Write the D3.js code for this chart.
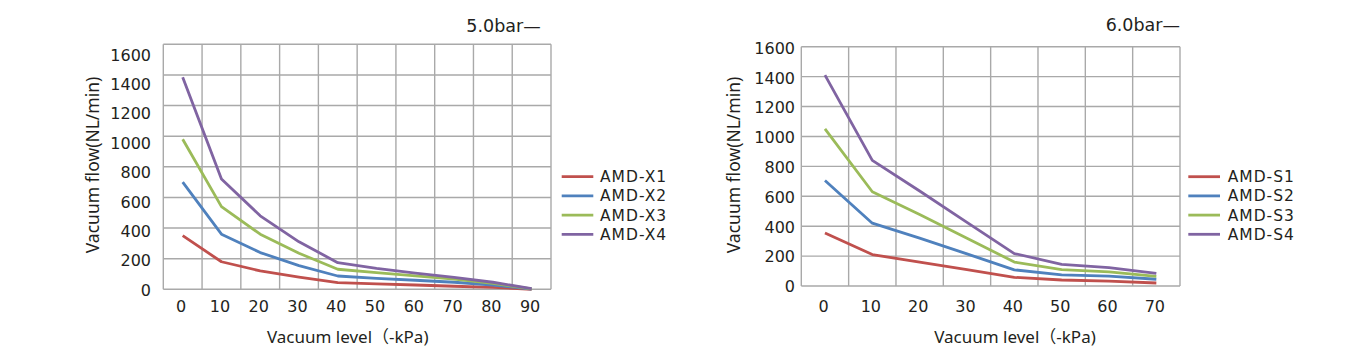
<!DOCTYPE html>
<html>
<head>
<meta charset="utf-8">
<script src="https://cdn.jsdelivr.net/npm/d3@7"></script>
<style>
  html, body { margin: 0; padding: 0; background: #ffffff; }
  svg { display: block; }
  text { fill: #231f20; }
</style>
</head>
<body>
<svg id="chart" width="1353" height="356"></svg>
<script>
// ---------- data ----------
const levelsX = [0, 10, 20, 30, 40, 50, 60, 70, 80, 90];
const amdX1 = [350, 180, 120, 80, 43, 35, 28, 20, 13, 0];
const amdX2 = [700, 360, 240, 155, 87, 72, 59, 46, 28, 2];
const amdX3 = [980, 540, 360, 235, 131, 109, 87, 67, 39, 3];
const amdX4 = [1385, 720, 480, 310, 174, 137, 106, 78, 46, 4];
const namesX = ["AMD-X1", "AMD-X2", "AMD-X3", "AMD-X4"];

const levelsS = [0, 10, 20, 30, 40, 50, 60, 70];
const amdS1 = [355, 210, 160, 110, 58, 40, 32, 20];
const amdS2 = [705, 420, 320, 215, 108, 75, 66, 45];
const amdS3 = [1050, 630, 478, 320, 160, 110, 95, 65];
const amdS4 = [1410, 840, 635, 425, 217, 145, 123, 85];
const namesS = ["AMD-S1", "AMD-S2", "AMD-S3", "AMD-S4"];

const yTicks = [0, 200, 400, 600, 800, 1000, 1200, 1400, 1600];
const titles = ["5.0bar\u2014", "6.0bar\u2014"];
const xTitle = "Vacuum level\uFF08-kPa)";
const yTitle = "Vacuum flow(NL/min)";
const colors = ["#c0504d", "#4f81bd", "#9bbb59", "#8064a2"];

// ---------- layout ----------
const panels = [
  {
    cats: levelsX, series: [amdX1, amdX2, amdX3, amdX4], names: namesX, title: titles[0],
    left: 163.3, right: 551, top: 44.3, bottom: 289.3,
    labelTop: 54.5, labelX: 151,
    titleX: 540.7, titleY: 31.7,
    xTitleX: 347.7, yTitleX: 99,
    legLine: [561.7, 593.3], legText: 600
  },
  {
    cats: levelsS, series: [amdS1, amdS2, amdS3, amdS4], names: namesS, title: titles[1],
    left: 801.3, right: 1180, top: 46.7, bottom: 286,
    labelTop: 47.5, labelX: 795,
    titleX: 1180, titleY: 31,
    xTitleX: 1015, yTitleX: 740,
    legLine: [1188.3, 1220], legText: 1227.7
  }
];

const svg = d3.select("#chart");

panels.forEach(p => {
  const g = svg.append("g");
  const x = d3.scaleBand().domain(p.cats).range([p.left, p.right]).paddingInner(0).paddingOuter(0);
  const y = d3.scaleLinear().domain([0, 1600]).range([p.bottom, p.top]);
  const yLab = d3.scaleLinear().domain([0, 1600]).range([p.bottom, p.labelTop]);
  const cx = d => x(d) + x.bandwidth() / 2;

  // grid
  const grid = g.append("g").attr("stroke", "#a9a9a9").attr("stroke-width", 1.4).attr("fill", "none");
  grid.selectAll("line.h").data(yTicks).join("line")
    .attr("x1", p.left).attr("x2", p.right)
    .attr("y1", d => y(d)).attr("y2", d => y(d));
  const vEdges = p.cats.map(d => x(d)).concat([x.range()[1]]);
  grid.selectAll("line.v").data(vEdges).join("line")
    .attr("x1", d => d).attr("x2", d => d)
    .attr("y1", p.top).attr("y2", p.bottom);

  // y tick labels
  const yAx = g.append("g").attr("transform", `translate(${p.labelX},0)`)
    .call(d3.axisLeft(yLab).tickValues(yTicks).tickSize(0).tickPadding(0).tickFormat(d3.format("d")));
  yAx.select(".domain").remove();
  yAx.selectAll("text").attr("x", 0).attr("dy", "0.36em")
    .style("font-family", "'DejaVu Sans', sans-serif").style("font-size", "16px").style("fill", "#231f20");

  // x tick labels
  const xAx = g.append("g").attr("transform", `translate(-1.5,0)`)
    .call(d3.axisBottom(x).tickSize(0).tickPadding(0));
  xAx.select(".domain").remove();
  xAx.selectAll("text").attr("y", 306).attr("dy", "0.36em")
    .style("font-family", "'DejaVu Sans', sans-serif").style("font-size", "16px").style("fill", "#231f20");

  // lines
  const line = d3.line().x((d, i) => cx(p.cats[i])).y(d => y(d));
  g.selectAll("path.series").data(p.series).join("path")
    .attr("class", "series")
    .attr("d", d => line(d))
    .attr("fill", "none")
    .attr("stroke", (d, i) => colors[i])
    .attr("stroke-width", 2.8)
    .attr("stroke-linejoin", "round");

  // legend
  const leg = g.selectAll("g.leg").data(p.names).join("g")
    .attr("class", "leg")
    .attr("transform", (d, i) => `translate(0,${176.7 + i * 19.2})`);
  leg.append("line").attr("x1", p.legLine[0]).attr("x2", p.legLine[1])
    .attr("y1", 0).attr("y2", 0)
    .attr("stroke", (d, i) => colors[i]).attr("stroke-width", 2.8);
  leg.append("text").attr("x", p.legText).attr("y", 0).attr("dy", "0.36em")
    .style("font-family", "'DejaVu Sans', sans-serif").style("font-size", "15.5px")
    .style("letter-spacing", "1px")
    .text(d => d);

  // titles
  g.append("text").attr("x", p.titleX).attr("y", p.titleY).attr("text-anchor", "end")
    .style("font-family", "'DejaVu Sans', sans-serif").style("font-size", "17.5px")
    .text(p.title);

  g.append("text").attr("x", p.xTitleX).attr("y", 343.4).attr("text-anchor", "middle")
    .style("font-family", "'Noto Sans', 'Noto Sans CJK SC', sans-serif").style("font-size", "17px")
    .text(xTitle);

  g.append("text").attr("transform", `translate(${p.yTitleX},165) rotate(-90)`)
    .attr("text-anchor", "middle")
    .style("font-family", "'Noto Sans', sans-serif").style("font-size", "17.5px")
    .text(yTitle);
});
</script>
</body>
</html>
